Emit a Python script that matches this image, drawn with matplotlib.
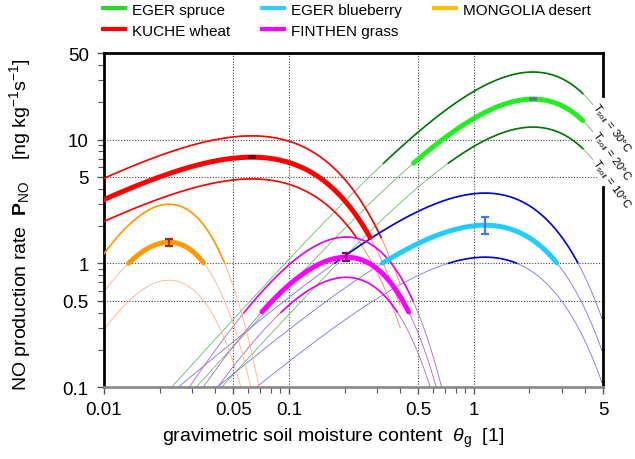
import numpy as np
import matplotlib
matplotlib.use('Agg')
import matplotlib.pyplot as plt
from matplotlib.lines import Line2D

plt.rcParams['font.family'] = ['Liberation Sans', 'DejaVu Sans']
plt.rcParams['mathtext.fontset'] = 'custom'
plt.rcParams['mathtext.rm'] = 'Liberation Sans'
plt.rcParams['mathtext.it'] = 'Liberation Sans:italic'
plt.rcParams['mathtext.bf'] = 'Liberation Sans:bold'

# model parameters (optimum moisture, optimum rate per soil temperature, shape)
sites = ['EGER spruce', 'KUCHE wheat', 'EGER blueberry', 'FINTHEN grass', 'MONGOLIA desert']
theta_opt = [2.09, 0.063, 1.15, 0.204, 0.0225]
p_opt_10 = [12.6, 4.8, 1.12, 0.77, 0.73]
p_opt_20 = [21.2, 7.2, 2.03, 1.12, 1.48]
p_opt_30 = [35.1, 10.7, 3.69, 1.63, 3.0]
shape_a = [1.67, 0.79, 1.27, 2.55, 3.6]
# range covered by the measurements (drawn bold)
p_min_obs = [6.4, 1.6, 1.0, 0.40, 1.0]
theta_max_obs = [3.9, 5.0, 5.0, 0.47, 5.0]
theta_end = [4.4, 0.40, 5.0, 5.0, 5.0]
# uncertainty of the optimum at 20 degC
err_lo = [0.4, 0.1, 0.31, 0.085, 0.09]
err_hi = [0.4, 0.1, 0.35, 0.085, 0.10]
temps = ['10', '20', '30']

col_thick = ['#22ee22', '#ff0000', '#22ccff', '#ff00ff', '#ff9900']
col_legend = ['#22dd22', '#ff0000', '#33ccff', '#ff00ff', '#ffc000']
col_mid = ['#007700', '#ff0000', '#0000e0', '#ee00ee', '#ff9900']
col_thin = ['#66bb66', '#ff7858', '#7070ff', '#b060c0', '#ffb080']
col_err = ['#4a8a7a', '#7a0000', '#4477ee', '#800080', '#a0300a']


def p_no(theta, t_opt, p_opt, a):
    r = theta / t_opt
    return p_opt * r ** a * np.exp(-a * (r - 1))


fig = plt.figure(figsize=(6.35, 4.6), dpi=100)
ax = fig.add_axes([0.1638, 0.1565, 0.7858, 0.7261])
ax.set_xscale('log')
ax.set_yscale('log')
ax.set_xlim(0.01, 5)
ax.set_ylim(0.1, 50)

for gx in [0.05, 0.1, 0.5, 1]:
    ax.axvline(gx, color='#444444', lw=0.8, ls=(0, (1, 1.5)), zorder=0)
for gy in [0.5, 1, 5, 10]:
    ax.axhline(gy, color='#444444', lw=0.8, ls=(0, (1, 1.5)), zorder=0)

for i in range(len(sites)):
    x = np.geomspace(0.009, theta_end[i], 800)
    for t, p_opt in zip(temps, [p_opt_10[i], p_opt_20[i], p_opt_30[i]]):
        p = p_no(x, theta_opt[i], p_opt, shape_a[i])
        obs = (p >= p_min_obs[i]) & (x <= theta_max_obs[i])
        ax.plot(x, p, color=col_thin[i], lw=0.6, zorder=2)
        if t == '20':
            ax.plot(x, np.where(obs, p, np.nan), color=col_thick[i], lw=3.6,
                    solid_capstyle='round', zorder=4)
        else:
            ax.plot(x, np.where(obs, p, np.nan), color=col_mid[i], lw=1.2, zorder=3)
    ax.errorbar(theta_opt[i], p_opt_20[i], yerr=[[err_lo[i]], [err_hi[i]]], fmt='none',
                ecolor=col_err[i], elinewidth=1.6, capsize=3, capthick=1.6, zorder=5)

# soil temperature labels at the end of the EGER spruce curves
for t, p_opt in zip(temps, [p_opt_10[0], p_opt_20[0], p_opt_30[0]]):
    y_end = p_no(theta_end[0], theta_opt[0], p_opt, shape_a[0])
    ax.annotate('T$_{\\rm soil}$ = ' + t + '°C', xy=(theta_end[0], y_end), xytext=(1.5, 0),
                textcoords='offset points', rotation=-54, rotation_mode='anchor',
                ha='left', va='center', fontsize=8, annotation_clip=False,
                bbox=dict(boxstyle='square,pad=0.05', fc='white', ec='none'), zorder=6)

ax.set_xticks([0.01, 0.05, 0.1, 0.5, 1, 5])
ax.set_xticklabels(['0.01', '0.05', '0.1', '0.5', '1', '5'])
ax.set_yticks([0.1, 0.5, 1, 5, 10, 50])
ax.set_yticklabels(['0.1', '0.5', '1', '5', '10', '50'])
ax.tick_params(which='both', direction='out', color='#555555', labelsize=13.5)
ax.tick_params(which='major', length=5, width=1, pad=5)
ax.tick_params(which='minor', length=4, width=0.8)
ax.tick_params(axis='y', which='major', pad=6)

for s in ['left', 'top']:
    ax.spines[s].set_linewidth(2)
    ax.spines[s].set_color('black')
ax.spines['bottom'].set_linewidth(2)
ax.spines['bottom'].set_color('#8c8c8c')
ax.spines['right'].set_linewidth(2)
ax.spines['right'].set_bounds(0.1, 4.1)
ax.axvline(5, ymin=0.871, ymax=1, color='black', lw=2, clip_on=False, zorder=6)

ax.set_xlabel('gravimetric soil moisture content  $\\theta_{\\rm g}$  [1]', fontsize=14)
ax.xaxis.set_label_coords(0.459, -0.115)
ax.set_ylabel('NO production rate  $\\mathbf{P}_{\\rm NO}$    [ng kg$^{-1}$s$^{-1}$]', fontsize=14)
ax.yaxis.set_label_coords(-0.142, 0.49)

handles = [Line2D([], [], color=c, lw=3) for c in col_legend]
fig.legend(handles, sites, ncol=3, loc='upper left', bbox_to_anchor=(0.152, 1.005),
           frameon=False, fontsize=11, handlelength=1.45, handletextpad=0.45,
           columnspacing=2.1, labelspacing=0.45, borderaxespad=0)

fig.savefig('out.png', dpi=100)
